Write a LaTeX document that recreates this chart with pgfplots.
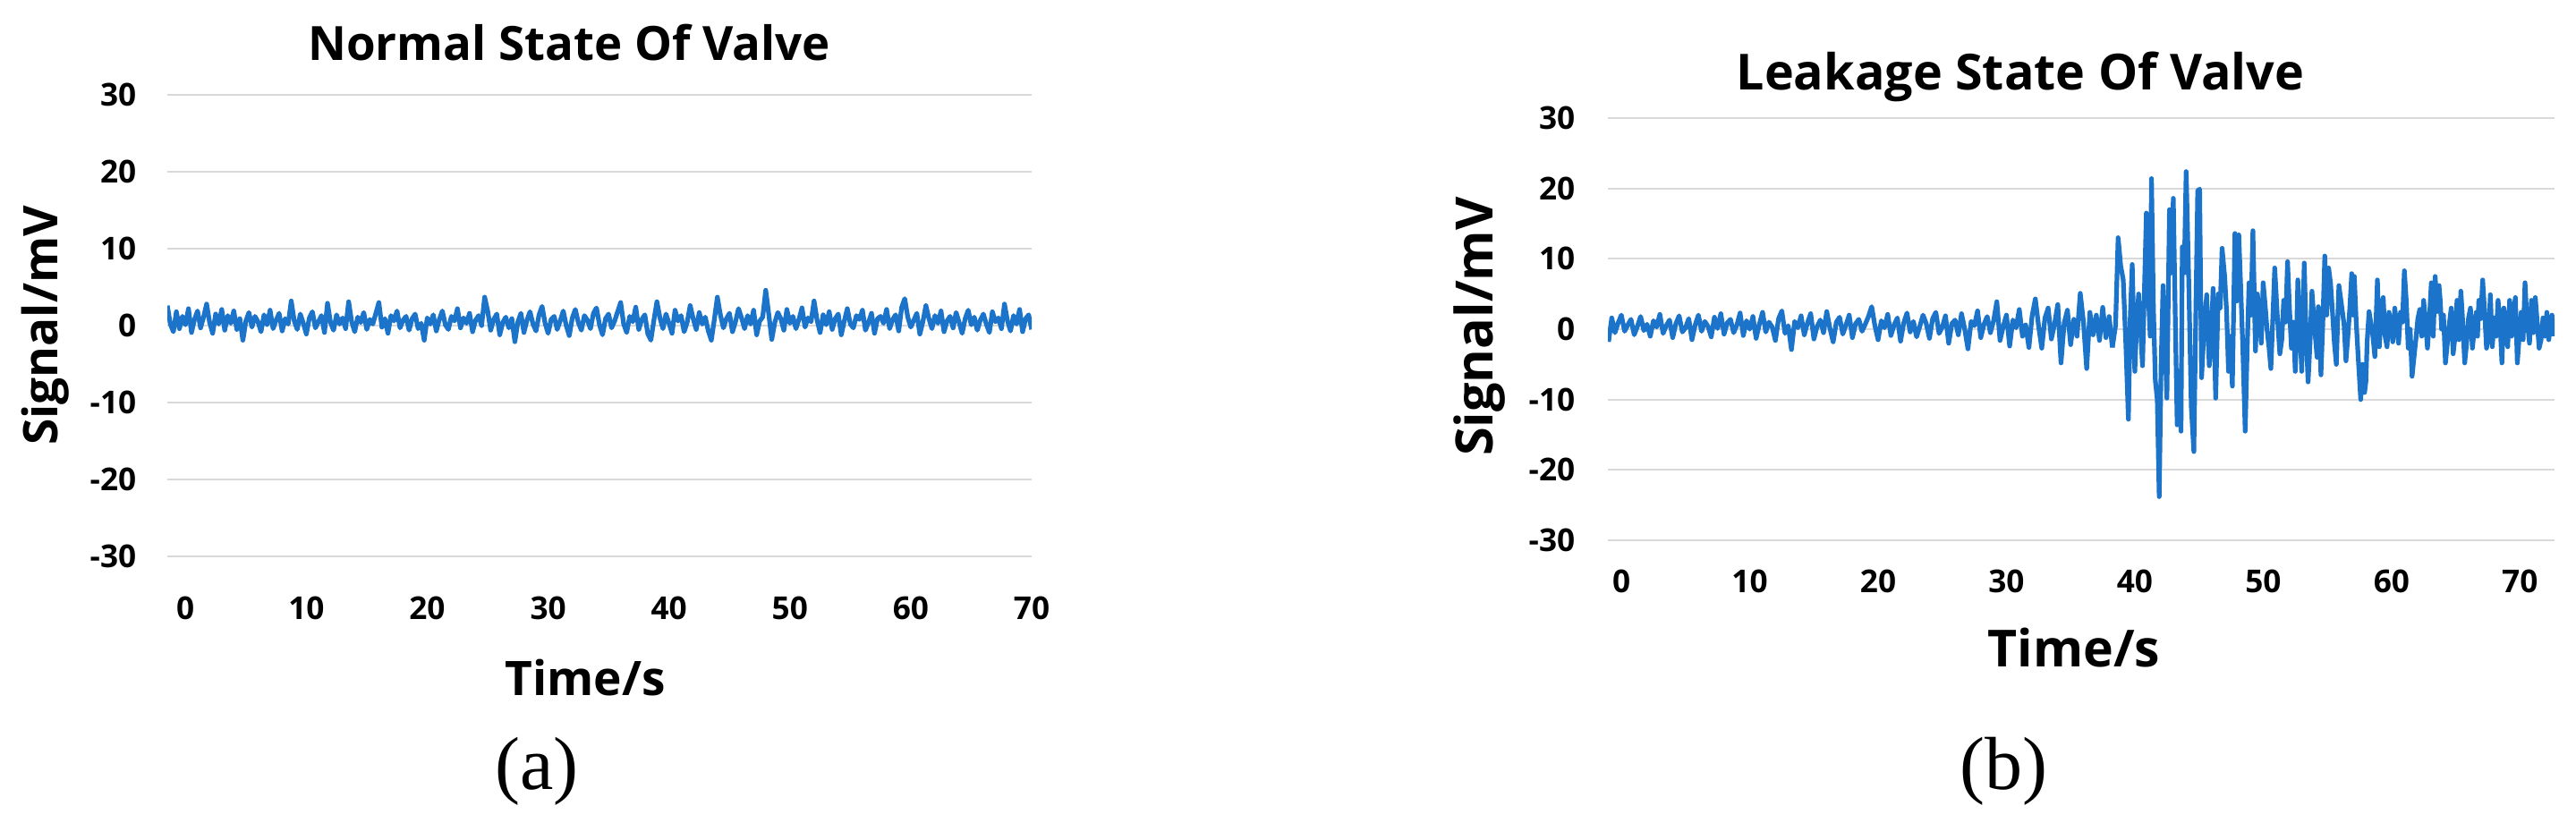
\documentclass[border=0pt]{standalone}
\usepackage{pgfplots}
\pgfplotsset{compat=1.18}
\usepackage{fontspec}
\setmainfont{Open Sans}
\newfontfamily\capserif{Liberation Serif}
\definecolor{sig}{HTML}{1B74C9}
\definecolor{gridc}{HTML}{D9D9D9}
\pgfplotsset{
  valve/.style={
    anchor=south west, scale only axis,
    ymin=-30, ymax=30, ytick={-30,-20,...,30}, xtick={0,10,...,70},
    axis line style={draw=none}, major tick length=0pt,
    ymajorgrids, xmajorgrids=false, grid style={gridc, line width=0.45pt},
    tick label style={font=\fontsize{8.8}{10}\selectfont\bfseries},
    /pgf/number format/assume math mode=true,
    yticklabel style={anchor=east, inner sep=0pt},
    xticklabel style={anchor=center, inner sep=0pt},
  },
  sigline/.style={sig, line width=1.3pt, line join=round},
}
\begin{document}
\begin{tikzpicture}
\path[use as bounding box] (0,0) rectangle (719.75pt,232.25pt);
% ---------- (a) Normal state ----------
\begin{axis}[valve, at={(46.75pt,76.75pt)}, width=241.5pt, height=129pt,
  xmin=-1.5, xmax=70,
  xticklabel style={yshift=-14.5pt}, yticklabel style={xshift=-8.5pt}]
\addplot[sigline] table[row sep=\\, header=false, x expr=\coordindex*0.25-1.5, y index=0] {
2.6\\0.2\\-0.8\\1.8\\-0.4\\1.2\\0.1\\2.2\\-0.9\\0.8\\1.9\\-0.3\\1.1\\2.8\\0.4\\-1.0\\1.5\\0.2\\2.1\\-0.6\\
1.3\\0.3\\1.9\\-0.5\\0.9\\-1.9\\0.6\\1.7\\-0.2\\1.2\\0.5\\-0.8\\1.4\\0.1\\2.0\\-0.4\\0.7\\1.6\\-0.7\\0.9\\
0.2\\3.2\\0.6\\-0.5\\1.5\\0.3\\-1.1\\1.0\\1.8\\-0.3\\0.5\\1.3\\-0.9\\2.9\\0.4\\-0.6\\1.4\\0.2\\1.0\\-0.4\\
3.1\\0.5\\-0.8\\1.1\\0.4\\1.7\\-0.5\\0.8\\0.2\\1.6\\3.0\\-0.2\\0.9\\-1.0\\1.3\\0.6\\1.9\\-0.3\\0.7\\1.2\\
-0.6\\0.9\\1.5\\-0.4\\0.3\\-1.9\\1.0\\0.2\\1.4\\-0.7\\0.8\\1.9\\0.1\\-0.5\\1.2\\0.6\\2.2\\-0.3\\1.0\\0.3\\
1.6\\-0.8\\0.7\\1.3\\0.0\\3.7\\1.9\\-0.6\\0.8\\1.5\\-1.2\\0.4\\1.1\\-0.3\\0.9\\-2.1\\0.5\\1.6\\-0.9\\0.7\\
1.8\\0.2\\-0.7\\1.4\\2.5\\0.3\\-1.0\\0.8\\1.2\\-0.5\\0.6\\1.9\\0.0\\-1.3\\1.0\\2.1\\0.4\\-0.6\\1.3\\0.7\\
-0.4\\1.6\\2.3\\0.1\\-1.2\\0.9\\1.5\\-0.3\\0.6\\1.8\\3.0\\0.2\\-0.9\\1.2\\0.5\\2.4\\-0.5\\0.8\\1.4\\-1.1\\
-1.9\\0.7\\3.1\\1.0\\-0.4\\1.5\\0.3\\-1.0\\2.0\\0.6\\1.3\\-0.8\\0.4\\2.6\\0.9\\-0.5\\1.7\\0.2\\1.1\\-0.7\\
-1.9\\0.8\\3.7\\1.4\\-0.3\\0.9\\1.6\\-0.8\\0.5\\2.2\\1.0\\-0.4\\1.3\\0.2\\2.0\\-1.2\\0.6\\1.1\\4.6\\1.5\\
-1.8\\0.4\\1.7\\0.9\\-0.6\\2.1\\0.3\\1.2\\-0.4\\0.8\\2.3\\-0.2\\1.0\\0.5\\3.2\\0.7\\-0.9\\1.4\\0.1\\1.8\\
-0.5\\0.9\\1.5\\-1.2\\0.6\\2.2\\0.2\\-0.3\\1.3\\0.8\\2.0\\-0.6\\0.4\\1.6\\-1.0\\0.9\\1.2\\0.3\\2.1\\-0.4\\
0.8\\1.4\\-0.7\\2.4\\3.5\\1.1\\-0.2\\0.7\\1.6\\-1.1\\0.5\\2.6\\0.9\\-0.4\\1.3\\0.3\\1.9\\-0.8\\0.6\\1.2\\
-0.3\\1.7\\0.4\\-1.0\\0.9\\2.0\\0.1\\1.1\\-0.6\\0.7\\1.5\\0.2\\-0.9\\1.8\\0.5\\1.0\\-0.4\\2.8\\0.6\\-0.7\\
1.3\\0.2\\2.1\\-0.8\\0.9\\1.4\\-0.5\\
};
\end{axis}
% ---------- (b) Leakage state ----------
\begin{axis}[valve, at={(449.25pt,81.25pt)}, width=264.5pt, height=118pt,
  xmin=-1.05, xmax=72.7,
  xticklabel style={yshift=-11.5pt}, yticklabel style={xshift=-9pt}]
\addplot[sigline] table[row sep=\\, header=false, x expr=\coordindex*0.25-1, y index=0] {
-1.8\\1.6\\-0.5\\0.9\\2.0\\-0.3\\0.6\\1.4\\-0.8\\0.4\\1.8\\-0.2\\0.7\\-1.0\\1.2\\0.3\\2.1\\-0.6\\0.5\\1.3\\
-1.2\\0.8\\1.9\\-0.4\\0.2\\1.5\\-1.5\\0.6\\2.0\\-0.3\\1.1\\0.4\\-1.1\\1.7\\0.1\\2.2\\-0.7\\0.9\\1.4\\-0.5\\
0.6\\2.3\\-0.9\\1.2\\0.0\\1.8\\-1.3\\0.7\\2.4\\-0.4\\1.0\\0.3\\-1.6\\1.5\\2.6\\-0.6\\0.5\\-2.9\\1.1\\0.2\\
1.9\\-0.8\\0.9\\2.2\\-1.4\\0.4\\1.3\\-0.5\\2.5\\0.1\\-1.8\\1.0\\1.7\\-0.7\\0.6\\2.0\\-1.2\\0.8\\1.4\\-0.3\\
0.7\\1.8\\3.2\\0.5\\-1.5\\1.2\\0.2\\2.1\\-0.9\\0.6\\1.6\\-1.7\\0.9\\2.3\\-0.4\\1.1\\-1.1\\0.4\\2.0\\0.8\\
-1.3\\1.5\\2.4\\-0.6\\0.3\\1.9\\-2.0\\0.8\\1.3\\-0.8\\2.2\\0.0\\-2.8\\1.1\\0.5\\2.6\\-1.2\\0.7\\1.8\\-0.5\\
1.2\\3.9\\-1.6\\0.4\\2.0\\-2.4\\1.3\\0.2\\2.8\\-1.0\\0.6\\-2.6\\1.9\\4.3\\0.5\\-2.7\\1.6\\3.0\\-1.4\\0.8\\
3.5\\-4.8\\0.9\\2.7\\-2.2\\1.4\\-1.0\\5.1\\1.0\\-5.6\\2.4\\-0.8\\2.0\\-1.6\\3.1\\-1.2\\1.8\\-2.6\\
};
\addplot[sigline] coordinates {
(38.25,-2.6) (38.5,0.5) (38.7,13.0) (38.9,9.0) (39.1,7.0) (39.3,-2.0) (39.5,-12.8) (39.65,2.0)
(39.8,9.2) (40.0,-6.0) (40.15,1.0) (40.3,5.0) (40.6,-5.2) (40.9,16.5) (41.05,5.0) (41.2,-1.0)
(41.3,21.4) (41.45,3.0) (41.6,-7.3) (41.75,-10.0) (41.9,-23.8) (42.05,-5.0) (42.2,6.2) (42.35,-2.0)
(42.5,-9.8) (42.7,17.0) (42.85,8.0) (43.0,18.6) (43.15,2.0) (43.3,-13.6) (43.45,-6.0) (43.6,-14.5)
(43.7,11.7) (43.85,8.0) (44.0,22.4) (44.2,7.0) (44.4,-11.0) (44.6,-17.4) (44.75,2.0) (44.9,19.7)
(45.05,19.9) (45.2,-6.9) (45.4,0.0) (45.6,4.9) (45.8,-5.2) (45.95,-1.0) (46.1,5.8) (46.3,-9.8)
(46.5,5.0) (46.65,3.0) (46.8,11.5) (47.0,7.5) (47.15,2.5) (47.3,-6.0) (47.45,-1.0) (47.6,-8.1)
(47.8,13.6) (47.95,4.0) (48.1,13.4) (48.25,6.0) (48.4,-1.8) (48.6,-14.5) (48.75,-3.0) (48.9,6.6)
(49.05,2.0) (49.2,14.0) (49.4,-3.1) (49.55,5.0) (49.7,2.4) (49.85,-2.0) (50.0,6.6) (50.15,3.5)
(50.3,0.0) (50.45,-2.5) (50.6,-5.6) (50.75,1.5) (50.9,8.7) (51.1,2.0) (51.3,-3.5) (51.45,-1.5)
(51.6,4.1) (51.75,1.0) (51.9,9.6) (52.05,3.0) (52.2,-2.7) (52.35,1.0) (52.5,-6.0) (52.6,-1.0)
(52.7,7.0) (52.85,1.0) (53.0,-6.0) (53.1,2.0) (53.2,9.4) (53.35,-1.0) (53.5,-7.5) (53.65,-2.0)
(53.8,5.4) (53.95,1.5) (54.1,-1.8) (54.2,-4.0) (54.3,3.2) (54.4,0.0) (54.5,-6.5) (54.65,1.0)
(54.8,10.4) (54.95,2.0) (55.1,8.7) (55.25,6.5) (55.4,2.4) (55.55,-2.0) (55.7,-5.0) (55.8,1.0)
(55.9,6.2) (56.1,3.5) (56.3,0.7) (56.45,-4.5) (56.6,-1.0) (56.75,3.0) (56.9,7.9) (57.0,2.0)
(57.1,7.5) (57.25,1.0) (57.4,-3.9) (57.6,-10.0) (57.75,-5.0) (57.9,-9.0) (58.0,-7.5) (58.1,-1.8)
(58.25,2.5) (58.4,0.7) (58.55,-1.0) (58.7,-3.9) (58.8,1.5) (58.9,7.0) (59.05,-2.5) (59.2,2.4)
(59.35,4.5) (59.5,-1.0) (59.65,-2.5) (59.8,2.4) (59.95,0.5) (60.1,-1.8) (60.25,3.0) (60.4,0.7)
(60.55,-2.0) (60.7,2.4) (60.85,1.0) (61.0,8.3) (61.15,4.0) (61.3,-2.7) (61.45,0.0) (61.6,-6.7)
(61.75,-4.0) (61.9,-1.4) (62.05,1.5) (62.2,2.8) (62.35,-1.0) (62.5,4.1) (62.65,1.0) (62.8,-2.7)
(62.95,1.5) (63.1,6.6) (63.25,-1.0) (63.4,7.5) (63.55,2.5) (63.7,6.2) (63.8,4.0) (63.9,0.0)
(64.05,2.0) (64.2,-4.8) (64.35,-2.0) (64.5,0.7) (64.65,3.0) (64.8,-3.5) (64.95,-1.0) (65.1,4.1)
(65.25,-1.5) (65.4,5.4) (65.55,1.0) (65.7,-4.8) (65.85,-2.0) (66.0,1.6) (66.15,3.0) (66.3,-2.7)
(66.45,0.0) (66.6,2.4) (66.7,-1.0) (66.8,4.1) (66.95,1.5) (67.1,7.0) (67.25,2.5) (67.4,-2.7)
(67.55,-1.0) (67.7,4.9) (67.85,-2.5) (68.0,1.6) (68.15,-1.0) (68.3,4.1) (68.45,1.0) (68.6,-4.8)
(68.75,3.0) (68.9,0.7) (69.05,-2.5) (69.2,4.1) (69.35,-1.0) (69.5,2.4) (69.65,4.5) (69.8,-4.8)
(69.95,-1.0) (70.1,2.4) (70.25,-1.5) (70.4,6.6) (70.5,3.0) (70.6,0.7) (70.75,-2.0) (70.9,4.1)
(71.05,-0.5) (71.2,4.5) (71.35,1.0) (71.5,-2.7) (71.65,-1.5) (71.8,1.6) (71.95,-1.0) (72.1,2.4)
(72.25,-1.5) (72.4,0.7) (72.5,2.0) (72.6,-1.0)
};
\end{axis}
% ---------- titles and labels ----------
\node[font=\fontsize{13.2}{15}\selectfont\bfseries, anchor=base] at (159pt,215.25pt) {Normal State Of Valve};
\node[font=\fontsize{13.9}{16}\selectfont\bfseries, anchor=base] at (564.5pt,207pt) {Leakage State Of Valve};
\node[font=\fontsize{13.3}{15}\selectfont\bfseries, anchor=base] at (163.5pt,37.75pt) {Time/s};
\node[font=\fontsize{14.3}{16}\selectfont\bfseries, anchor=base] at (579.5pt,45.75pt) {Time/s};
\node[font=\fontsize{13.3}{15}\selectfont\bfseries, anchor=base, rotate=90] at (16.25pt,141.25pt) {Signal/mV};
\node[font=\fontsize{14.4}{16}\selectfont\bfseries, anchor=base, rotate=90] at (417pt,141pt) {Signal/mV};
\node[font=\capserif\fontsize{21}{24}\selectfont, anchor=base] at (150pt,11.5pt) {(a)};
\node[font=\capserif\fontsize{21}{24}\selectfont, anchor=base] at (559.75pt,11.5pt) {(b)};
\end{tikzpicture}
\end{document}
